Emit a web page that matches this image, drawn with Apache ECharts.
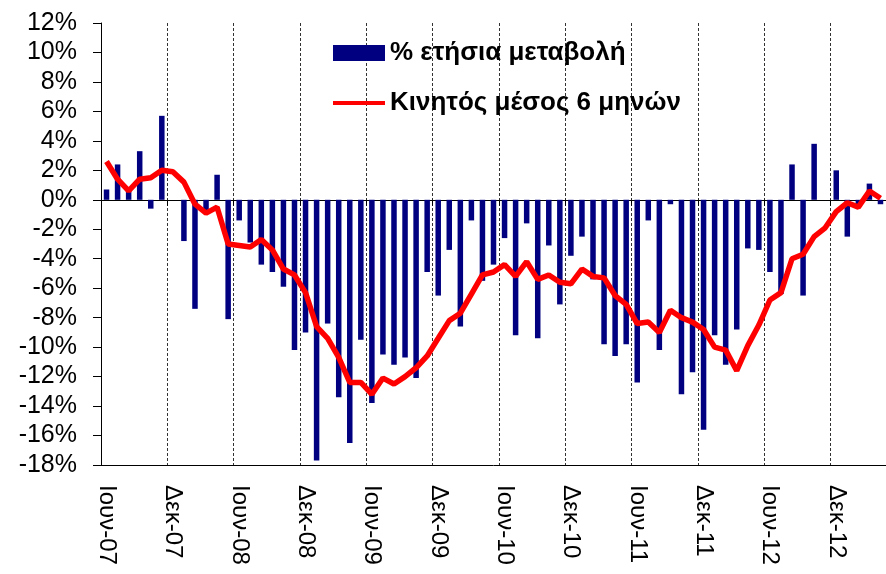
<!DOCTYPE html>
<html>
<head>
<meta charset="utf-8">
<script src="https://cdn.jsdelivr.net/npm/echarts@6/dist/echarts.min.js"></script>
<style>
  html, body { margin: 0; padding: 0; background: #fff; }
  #chart { width: 886px; height: 574px; }
</style>
</head>
<body>
<div id="chart"></div>
<script>
// μήνες / άξονας
var monthNames = ['Ιαν', 'Φεβ', 'Μαρ', 'Απρ', 'Μαϊ', 'Ιουν', 'Ιουλ', 'Αυγ', 'Σεπ', 'Οκτ', 'Νοε', 'Δεκ'];
var categories = [];
for (var k = 0; k < 71; k++) {
    var m = (5 + k) % 12;
    var y = 7 + Math.floor((5 + k) / 12);
    categories.push(monthNames[m] + '-' + (y < 10 ? '0' + y : y));
}

// % ετήσια μεταβολή (bars)
var annualChange = [
    0.7, 2.4, 0.6, 3.3, -0.6, 5.7, 0, -2.8, -7.4, -0.7, 1.7, -8.1,
    -1.4, -2.9, -4.4, -4.9, -5.9, -10.2, -9.0, -17.7, -8.4, -13.4, -16.5, -9.5,
    -13.8, -10.5, -11.2, -10.7, -12.1, -4.9, -6.5, -3.4, -8.6, -1.4, -5.5, -4.4,
    -2.6, -9.2, -1.6, -9.4, -3.1, -7.1, -3.8, -2.5, -5.4, -9.8, -10.6, -9.8,
    -12.4, -1.4, -10.2, -0.3, -13.2, -11.7, -15.6, -9.2, -11.2, -8.8, -3.3, -3.4,
    -4.9, -6.4, 2.4, -6.5, 3.8, 0, 2.0, -2.5, -0.4, 1.1, -0.3
];

// Κινητός μέσος 6 μηνών (line)
var movingAvg = [
    2.6, 1.4, 0.6, 1.4, 1.5, 2.0, 1.9, 1.2, -0.3, -0.9, -0.5, -3.0,
    -3.1, -3.2, -2.7, -3.4, -4.7, -5.1, -6.3, -8.6, -9.4, -10.7, -12.4, -12.4,
    -13.2, -12.1, -12.5, -12.0, -11.4, -10.6, -9.4, -8.2, -7.7, -6.4, -5.1, -4.9,
    -4.4, -5.2, -4.2, -5.4, -5.1, -5.6, -5.7, -4.7, -5.2, -5.3, -6.5, -7.1,
    -8.4, -8.3, -9.0, -7.5, -8.0, -8.3, -8.8, -10.0, -10.2, -11.6, -9.9, -8.5,
    -6.8, -6.3, -4.0, -3.7, -2.5, -1.9, -0.8, -0.2, -0.5, 0.6, 0.1
];

var yMin = -18, yMax = 12, yStep = 2;

var chart = echarts.init(document.getElementById('chart'));

var option = {
    backgroundColor: '#fff',
    animation: false,
    grid: {
        left: 101,
        top: 23,
        width: 792,
        height: 442,
        containLabel: false
    },
    legend: {
        orient: 'vertical',
        left: 331,
        top: 40,
        padding: 0,
        itemWidth: 52,
        itemHeight: 16,
        itemGap: 24,
        textStyle: {
            color: '#000',
            fontFamily: 'Liberation Sans, Arial, sans-serif',
            fontWeight: 'bold',
            fontSize: 26,
            padding: [0, 0, 0, 0]
        },
        data: [
            {name: '% ετήσια μεταβολή', icon: 'rect'},
            {name: 'Κινητός μέσος 6 μηνών', itemStyle: {opacity: 0}, lineStyle: {width: 4}}
        ]
    },
    xAxis: [
        {
            type: 'category',
            data: categories,
            position: 'bottom',
            boundaryGap: true,
            axisLine: {onZero: false, lineStyle: {color: '#000', width: 1}},
            axisTick: {show: false},
            axisLabel: {
                interval: 5,
                rotate: -90,
                margin: 20,
                color: '#000',
                fontFamily: 'Liberation Sans, Arial, sans-serif',
                fontSize: 24
            },
            splitLine: {
                show: true,
                interval: 5,
                lineStyle: {color: '#333', width: 1, type: [3, 2]}
            }
        },
        {
            // γραμμή του μηδενός
            type: 'category',
            data: categories,
            position: 'bottom',
            boundaryGap: true,
            axisLine: {onZero: true, lineStyle: {color: '#000', width: 1}},
            axisTick: {show: true, interval: 5, length: 6, lineStyle: {color: '#000'}},
            axisLabel: {show: false},
            splitLine: {show: false}
        }
    ],
    yAxis: {
        type: 'value',
        min: yMin,
        max: yMax,
        interval: yStep,
        axisLine: {show: true, lineStyle: {color: '#000', width: 1}},
        axisTick: {show: true, length: 8, lineStyle: {color: '#000'}},
        splitLine: {show: false},
        axisLabel: {
            margin: 24,
            color: '#000',
            fontFamily: 'Liberation Sans, Arial, sans-serif',
            fontSize: 25,
            formatter: function (v) { return v + '%'; }
        }
    },
    series: [
        {
            name: '% ετήσια μεταβολή',
            type: 'bar',
            xAxisIndex: 0,
            barWidth: 5.5,
            itemStyle: {color: '#000080'},
            data: annualChange,
            z: 2
        },
        {
            name: 'Κινητός μέσος 6 μηνών',
            type: 'line',
            xAxisIndex: 0,
            symbol: 'none',
            smooth: false,
            lineStyle: {color: '#ff0000', width: 5.5},
            itemStyle: {color: '#ff0000'},
            data: movingAvg,
            z: 3
        }
    ]
};

chart.setOption(option);
</script>
</body>
</html>
